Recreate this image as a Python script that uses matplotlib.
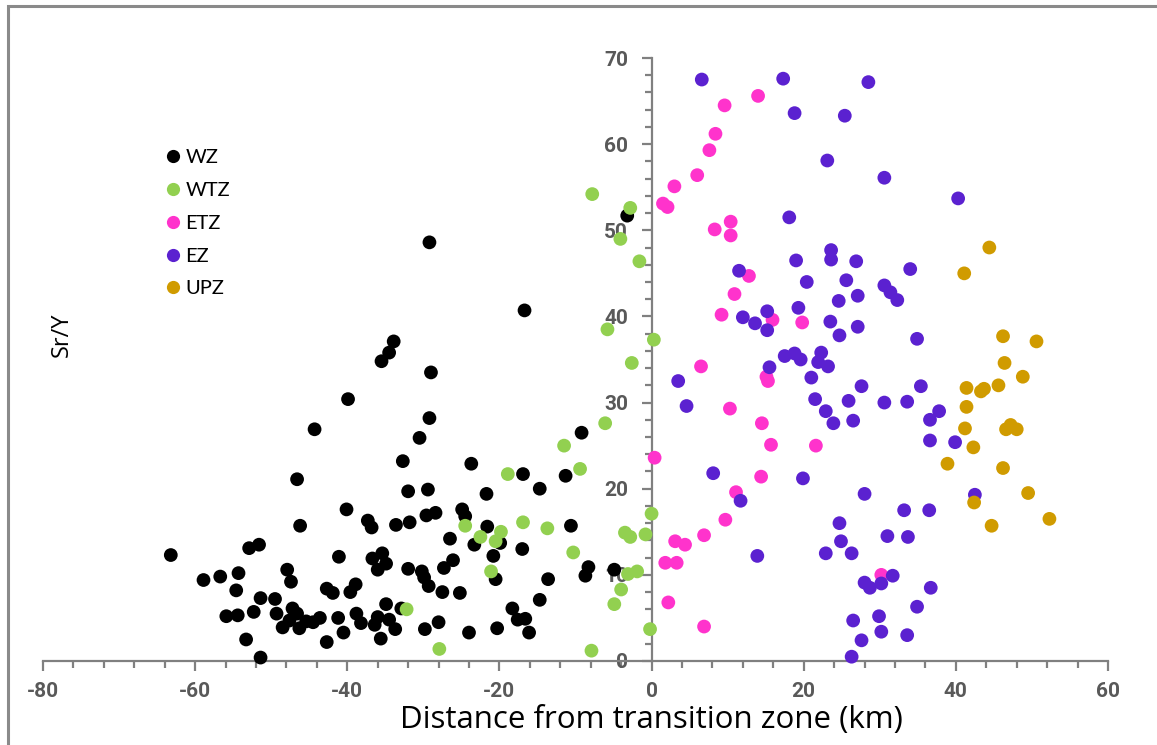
import matplotlib
matplotlib.use("Agg")
import matplotlib.pyplot as plt
from matplotlib.ticker import MultipleLocator
from matplotlib.lines import Line2D

plt.rcParams["axes.unicode_minus"] = False

# ---- data ----
wz_x = [-63.2, -58.9, -56.7, -54.3, -54.6, -55.9, -54.4, -53.3, -52.3, -51.4, -51.4, -52.9, -51.6,
        -49.5, -49.3, -47.9, -47.4, -48.5, -47.2, -46.6, -47.6, -46.3, -45.4, -44.5, -43.6,
        -46.6, -46.2, -44.3, -39.9, -40.1, -37.3, -36.8, -41.1, -42.7, -41.9, -39.6, -38.9,
        -42.7, -41.2, -40.5, -38.8, -38.2, -36.4, -36.0, -35.6, -36.7, -35.4, -36.0, -34.9,
        -34.9, -29.2, -30.5, -32.7, -32.0, -29.4, -33.6, -31.8, -29.6, -28.4, -23.7, -24.9,
        -24.5, -21.7, -21.6, -26.5, -23.3, -19.9, -20.8, -17.0, -16.9, -14.7, -11.3, -9.2,
        -10.6, -8.3, -8.7, -4.9, -32.0, -30.2, -29.9, -29.3, -27.3, -26.1, -27.5, -25.2,
        -20.5, -13.6, -14.7, -18.3, -17.6, -16.6, -16.1, -20.3, -24.0, -28.0, -29.8, -32.9,
        -34.5, -33.7, -29.2, -16.7, -33.9, -34.5, -35.5, -29.0, -3.2]
wz_y = [12.3, 9.4, 9.8, 10.2, 8.2, 5.2, 5.3, 2.5, 5.7, 7.3, 0.4, 13.1, 13.5,
        7.2, 5.5, 10.6, 9.2, 3.9, 6.1, 5.5, 4.7, 3.8, 4.6, 4.5, 5.0,
        21.1, 15.7, 26.9, 30.4, 17.6, 16.3, 15.5, 12.1, 8.4, 7.9, 8.0, 8.9,
        2.2, 5.0, 3.3, 5.5, 4.4, 4.2, 5.1, 2.6, 11.9, 12.5, 10.6, 11.3,
        6.6, 28.2, 25.9, 23.2, 19.7, 19.9, 15.8, 16.1, 16.9, 17.2, 22.9, 17.6,
        16.8, 19.4, 15.6, 14.2, 13.5, 13.7, 12.2, 13.0, 21.7, 20.0, 21.5, 26.5,
        15.7, 10.9, 9.9, 10.6, 10.7, 10.4, 9.7, 8.7, 10.8, 11.7, 8.0, 7.9,
        9.5, 9.5, 7.1, 6.1, 4.8, 4.9, 3.3, 3.8, 3.3, 4.5, 3.7, 6.1,
        4.8, 3.7, 48.6, 40.7, 37.1, 35.8, 34.8, 33.5, 51.7]

wtz_x = [-32.2, -27.9, -24.5, -22.5, -20.5, -19.8, -21.1, -18.9, -16.9, -13.7, -11.5, -9.4, -10.3,
         -6.1, -3.5, -2.8, -0.8, 0.0, -3.1, -1.9, -4.0, -4.9, -7.9, -0.2, -4.1, -1.6, -5.8,
         -2.6, 0.3, -7.8, -2.8]
wtz_y = [6.0, 1.4, 15.7, 14.4, 13.9, 15.0, 10.4, 21.7, 16.1, 15.4, 25.0, 22.3, 12.6,
         27.6, 14.9, 14.4, 14.7, 17.1, 10.1, 10.4, 8.3, 6.6, 1.2, 3.7, 49.0, 46.4, 38.5,
         34.6, 37.3, 54.2, 52.6]

etz_x = [1.5, 2.1, 3.0, 6.0, 7.6, 8.4, 9.6, 14.0, 8.3, 10.4, 10.4, 12.8, 10.9, 9.2, 15.9, 19.8,
         6.5, 15.1, 15.3, 10.3, 14.5, 15.7, 21.6, 0.4, 14.4, 11.1, 9.7, 6.9, 3.1, 4.4, 1.8,
         3.3, 2.2, 6.9, 30.2]
etz_y = [53.1, 52.7, 55.1, 56.4, 59.3, 61.2, 64.5, 65.6, 50.1, 51.0, 49.4, 44.7, 42.6, 40.2, 39.6, 39.3,
         34.2, 33.0, 32.5, 29.3, 27.6, 25.1, 25.0, 23.6, 21.4, 19.6, 16.4, 14.6, 13.9, 13.5, 11.4,
         11.4, 6.8, 4.0, 10.0]

ez_x = [6.6, 17.3, 18.8, 25.4, 23.1, 18.1, 11.5, 19.0, 23.6, 23.6, 26.9, 20.4, 25.6, 27.1, 24.6,
        19.3, 15.2, 12.0, 13.6, 15.2, 23.5, 24.7, 27.1, 28.5, 30.6, 40.3, 34.0, 30.6, 31.4, 32.3,
        34.9, 17.5, 18.8, 19.6, 22.3, 21.9, 23.2, 15.5, 3.5, 4.6, 21.0, 21.5, 27.6, 25.9, 22.9,
        26.5, 23.9, 30.6, 33.6, 35.4, 36.6, 36.6, 37.8, 39.9, 42.5, 8.1, 19.9, 11.7, 28.0, 33.2,
        36.5, 24.7, 24.9, 22.9, 26.3, 31.0, 33.7, 13.9, 31.7, 28.0, 28.7, 30.2, 36.7, 34.9, 26.5,
        29.9, 30.2, 33.6, 27.6, 26.3]
ez_y = [67.5, 67.6, 63.6, 63.3, 58.1, 51.5, 45.3, 46.5, 47.7, 46.6, 46.4, 44.0, 44.2, 42.4, 41.8,
        41.0, 40.6, 39.9, 39.2, 38.4, 39.4, 37.8, 38.8, 67.2, 56.1, 53.7, 45.5, 43.6, 42.8, 41.9,
        37.4, 35.4, 35.7, 35.0, 35.8, 34.7, 34.2, 34.1, 32.5, 29.6, 32.9, 30.4, 31.9, 30.2, 29.0,
        27.9, 27.6, 30.0, 30.1, 31.9, 28.0, 25.6, 29.0, 25.4, 19.3, 21.8, 21.2, 18.6, 19.4, 17.5,
        17.5, 16.0, 13.9, 12.5, 12.5, 14.5, 14.4, 12.2, 9.9, 9.1, 8.5, 9.0, 8.5, 6.3, 4.7,
        5.2, 3.4, 3.0, 2.4, 0.5]

upz_x = [44.4, 41.1, 46.2, 50.6, 46.4, 48.8, 41.4, 43.3, 43.7, 45.6, 41.4, 41.2, 46.6, 47.2, 48.0,
         42.3, 38.9, 46.2, 42.4, 49.5, 44.7, 52.3]
upz_y = [48.0, 45.0, 37.7, 37.1, 34.6, 33.0, 31.7, 31.3, 31.6, 32.0, 29.5, 27.0, 26.9, 27.4, 26.9,
         24.8, 22.9, 22.4, 18.4, 19.5, 15.7, 16.5]

series = [
    ("WZ", wz_x, wz_y, "#000000"),
    ("WTZ", wtz_x, wtz_y, "#92D050"),
    ("ETZ", etz_x, etz_y, "#FF33CC"),
    ("EZ", ez_x, ez_y, "#5B21D0"),
    ("UPZ", upz_x, upz_y, "#D09B00"),
]

W, H = 1157, 745
fig = plt.figure(figsize=(W / 100, H / 100), dpi=100)
ax = fig.add_axes([43 / W, 1 - 661 / H, (1108 - 43) / W, (661 - 58) / H])

for name, xs, ys, c in series:
    ax.scatter(xs, ys, s=98, color=c, edgecolors="none", label=name, zorder=3, clip_on=False)

ax.set_xlim(-80, 60)
ax.set_ylim(0, 70)

axis_gray = "#808080"
ax.spines["left"].set_position(("data", 0))
ax.spines["bottom"].set_position(("data", 0))
for s in ["top", "right"]:
    ax.spines[s].set_visible(False)
for s in ["left", "bottom"]:
    ax.spines[s].set_color(axis_gray)
    ax.spines[s].set_linewidth(1.6)
    ax.spines[s].set_zorder(2)

ax.xaxis.set_major_locator(MultipleLocator(20))
ax.xaxis.set_minor_locator(MultipleLocator(4))
ax.yaxis.set_major_locator(MultipleLocator(10))
ax.yaxis.set_minor_locator(MultipleLocator(2))
ax.tick_params(axis="both", which="major", direction="out", length=7, width=1.6, color=axis_gray)
ax.tick_params(axis="both", which="minor", direction="out", length=5, width=1.6, color=axis_gray)
ax.tick_params(axis="x", which="major", pad=8)
ax.tick_params(axis="y", which="major", pad=10)

for lab in ax.get_xticklabels() + ax.get_yticklabels():
    lab.set_fontfamily(["Roboto", "DejaVu Sans"])
    lab.set_fontweight("bold")
    lab.set_fontsize(15)
    lab.set_color("#595959")

fig.text(651 / W, 1 - 720 / H, "Distance from transition zone (km)", ha="center", va="center",
         family="Open Sans", size=22.5, color="#000000")
fig.text(62 / W, 1 - 335 / H, "Sr/Y", ha="center", va="center", rotation=90,
         family="Open Sans", size=17, color="#000000")

handles = [Line2D([], [], marker="o", linestyle="none", markersize=9.5, markerfacecolor=c,
                  markeredgecolor="none", label=n) for n, _, _, c in series]
leg = fig.legend(handles=handles, loc="upper left", bbox_to_anchor=(155 / W, 1 - 139 / H),
                 frameon=False, handlelength=0.8, handletextpad=0.2, labelspacing=0.78,
                 borderpad=0, prop=dict(family="Lato", size=14.5))

# outer chart border (right/bottom edges clipped in the reference)
border = plt.Rectangle((8 / W, -0.05), 1.2, 1 - 6 / H + 0.05, transform=fig.transFigure,
                       fill=False, edgecolor="#8a8a8a", linewidth=2.2)
fig.patches.append(border)

fig.savefig("out.png", dpi=100)
